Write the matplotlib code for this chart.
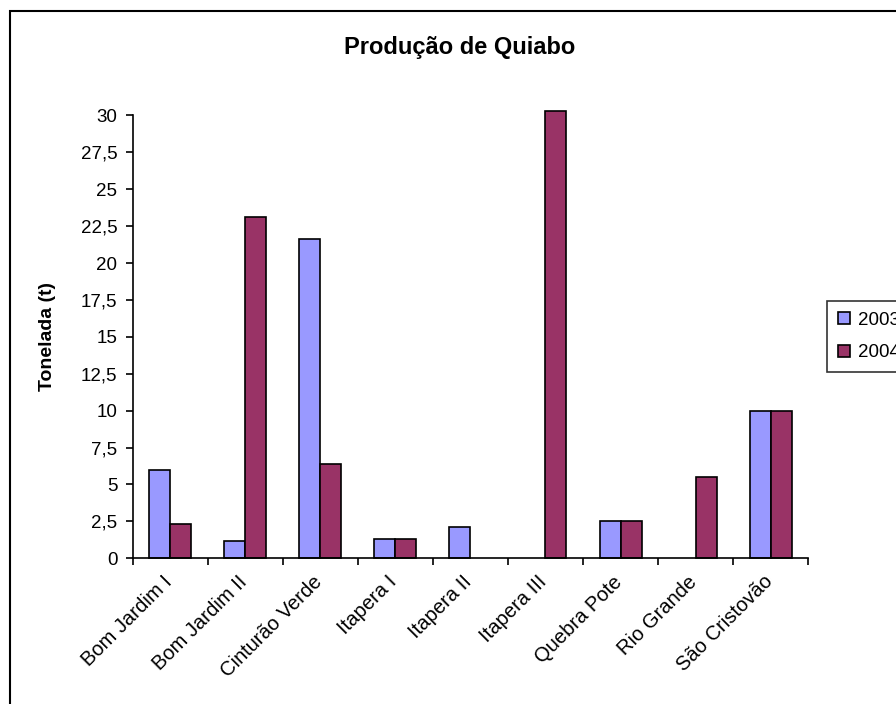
import numpy as np
import matplotlib
matplotlib.use("Agg")
import matplotlib.pyplot as plt
import matplotlib.transforms as mtransforms
from matplotlib.patches import Rectangle
from matplotlib.ticker import FuncFormatter

plt.rcParams["font.family"] = ["Liberation Sans", "DejaVu Sans"]

# ── Data ──────────────────────────────────────────────────────────────────────
categories = ["Bom Jardim I", "Bom Jardim II", "Cinturão Verde", "Itapera I",
              "Itapera II", "Itapera III", "Quebra Pote", "Rio Grande",
              "São Cristovão"]
prod_2003 = [6.0, 1.2, 21.6, 1.3, 2.1, 0.0, 2.5, 0.0, 10.0]
prod_2004 = [2.3, 23.1, 6.4, 1.3, 0.0, 30.3, 2.5, 5.5, 10.0]
y_ticks = np.arange(0, 30.01, 2.5)

COL_2003 = "#9999FF"
COL_2004 = "#993366"
FS = 13.5

fig = plt.figure(figsize=(8.96, 7.04), dpi=100)
ax = fig.add_axes([0.148, 0.207, 0.754, 0.629])

x = np.arange(len(categories))
w = 0.28
for vals, off, col, lab in [(prod_2003, -w / 2, COL_2003, "2003"),
                            (prod_2004, w / 2, COL_2004, "2004")]:
    vals = np.array(vals)
    lw = np.where(vals > 0, 1.2, 0.0)   # Excel draws nothing for a zero bar
    ax.bar(x + off, vals, w, color=col, edgecolor="black",
           linewidth=lw, label=lab, clip_on=False)

ax.set_xlim(-0.5, len(categories) - 0.5)
ax.set_ylim(0, 30)
ax.set_yticks(y_ticks)
ax.yaxis.set_major_formatter(FuncFormatter(
    lambda v, p: (f"{v:g}").replace(".", ",")))
ax.set_xticks(np.arange(len(categories) + 1) - 0.5)
ax.set_xticklabels([])
ax.set_xticks(x, minor=True)
ax.tick_params(axis="x", which="minor", length=0, pad=10)
ax.tick_params(axis="x", which="major", length=5, width=1.2, direction="out")
ax.tick_params(axis="y", length=5, width=1.2, labelsize=FS, pad=6)
ax.set_xticklabels(categories, minor=True, rotation=45, ha="right",
                   rotation_mode="anchor", fontsize=14.5)
# Excel puts the rotated labels a little left of the category centre
shift = mtransforms.ScaledTranslation(-8 / 100, 0, fig.dpi_scale_trans)
for lbl in ax.get_xticklabels(minor=True):
    lbl.set_transform(lbl.get_transform() + shift)

for s in ["top", "right"]:
    ax.spines[s].set_visible(False)
for s in ["left", "bottom"]:
    ax.spines[s].set_linewidth(1.2)

ax.set_ylabel("Tonelada (t)", fontsize=14, fontweight="bold")
ax.yaxis.set_label_coords(-0.113, 0.5)
fig.text(0.513, 0.933, "Produção de Quiabo", ha="center", va="center",
         fontsize=17, fontweight="bold")

leg = fig.legend(loc="upper left", bbox_to_anchor=(0.923, 0.573),
                 frameon=True, fancybox=False, edgecolor="black",
                 fontsize=FS, handlelength=0.6, handleheight=0.6,
                 handletextpad=0.43, borderpad=0.6, labelspacing=0.82,
                 borderaxespad=0)
leg.get_frame().set_linewidth(1.2)

# chart border (extends past right/bottom edges like the original)
fig.patches.append(Rectangle((10 / 896, -0.05), 1.0, 1 - 11 / 704 + 0.05,
                             transform=fig.transFigure, fill=False,
                             edgecolor="black", linewidth=1.5))

fig.savefig("out.png", dpi=100)
